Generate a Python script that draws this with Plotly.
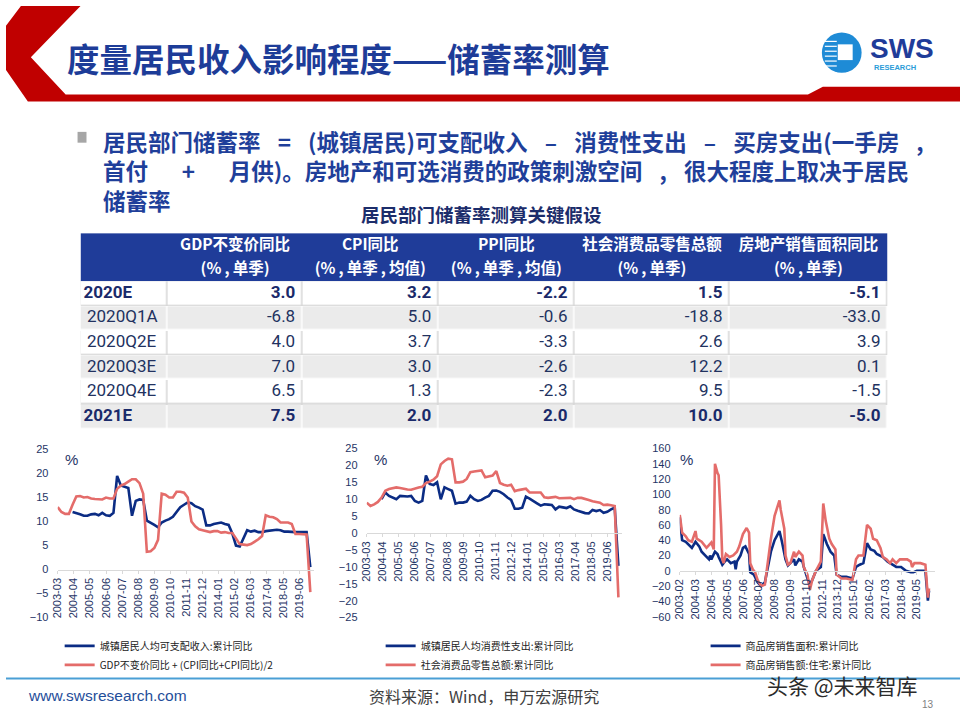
import plotly.graph_objects as go
import pandas as pd
import numpy as np

W, H = 960, 720
def X(p): return p / W
def Y(p): return 1 - p / H

# ---------------- data ----------------
G1 = "\u2002\u2009\u200a"   # operator gap
G2 = "\u2003\u2002"         # gap around "+"
title_text = "度量居民收入影响程度——储蓄率测算"
bullet_lines = [
    f"居民部门储蓄率{G1}={G1}(城镇居民)可支配收入{G1}–{G1}消费性支出{G1}–{G1}买房支出(一手房{G1},",
    f"首付{G2}+{G2}月供)。房地产和可选消费的政策刺激空间{G1},{G1}很大程度上取决于居民",
    "储蓄率",
]
table_title = "居民部门储蓄率测算关键假设"
header_l1 = ["GDP不变价同比", "CPI同比", "PPI同比", "社会消费品零售总额", "房地产销售面积同比"]
header_l2 = ["(%\u2009,\u2009单季)", "(%\u2009,\u2009单季\u2009,\u2009均值)", "(%\u2009,\u2009单季\u2009,\u2009均值)",
             "(%\u2009,\u2009单季)", "(%\u2009,\u2009单季)"]
row_labels = ["2020E", "2020Q1A", "2020Q2E", "2020Q3E", "2020Q4E", "2021E"]
bold_rows = [True, False, False, False, False, True]
gdp = [3.0, -6.8, 4.0, 7.0, 6.5, 7.5]
cpi = [3.2, 5.0, 3.7, 3.0, 1.3, 2.0]
ppi = [-2.2, -0.6, -3.3, -2.6, -2.3, 2.0]
retail = [1.5, -18.8, 2.6, 12.2, 9.5, 10.0]
house = [-5.1, -33.0, 3.9, 0.1, -1.5, -5.0]

# chart 1 (quarterly)
c1_red_name = "GDP不变价同比 + (CPI同比+CPI同比)/2"
c1_blue_name = "城镇居民人均可支配收入:累计同比"
c1_red = [13.0, 12.0, 11.6, 11.6, 13.5, 15.2, 15.3, 15.0, 15.1, 14.8, 14.7, 14.6,
          14.6, 15.0, 14.8, 14.8, 16.8, 17.5, 17.8, 18.3, 18.8, 18.8, 18.0, 15.8,
          3.7, 3.8, 4.5, 6.2, 15.8, 15.6, 15.0, 15.0, 16.2, 16.2, 16.0, 15.0,
          10.0, 9.0, 8.4, 8.2, 8.0, 7.8, 8.0, 8.0, 7.7, 7.8, 7.6, 7.6,
          6.5, 5.3, 5.2, 5.1, 5.3, 5.8, 6.3, 7.0, 11.3, 11.0, 10.9, 10.5,
          9.8, 9.8, 9.8, 9.5, 7.4, 7.4, 7.4, 7.3, -4.7]
c1_blue = [12.0, 11.8, 11.5, 11.2, 11.2, 11.5, 11.6, 11.3, 11.8, 11.3, 11.2, 11.8,
           19.5, 17.5, 17.3, 17.0, 11.2, 14.3, 14.6, 14.5, 10.2, 9.8, 9.3, 8.8,
           9.8, 10.2, 10.5, 11.0, 12.0, 13.0, 13.5, 14.0, 13.8, 13.2, 12.9, 12.5,
           9.2, 9.2, 9.5, 9.7, 9.8, 9.5, 9.3, 7.5, 5.0, 4.8, 6.5, 8.2,
           7.9, 8.1, 7.8, 7.8, 8.0, 8.1, 8.3, 8.3, 8.2, 7.9, 7.9, 7.8,
           7.8, 7.8, 7.8, 7.8, 0.5]

# chart 2 (quarterly)
c2_red_name = "社会消费品零售总额:累计同比"
c2_blue_name = "城镇居民人均消费性支出:累计同比"
c2_red = [9.0, 8.0, 8.5, 9.2, 10.5, 12.5, 13.0, 13.2, 13.5, 13.3, 13.0, 12.9,
          12.8, 13.2, 13.5, 13.7, 14.8, 15.2, 15.8, 16.8, 20.3, 21.3, 22.0, 21.8,
          15.0, 15.0, 15.2, 16.0, 18.0, 18.2, 18.3, 18.5, 16.5, 16.8, 17.0, 18.3,
          14.8, 14.3, 14.0, 14.3, 12.4, 12.7, 12.9, 13.1, 12.0, 12.1, 12.0, 12.0,
          10.6, 10.4, 10.5, 10.7, 10.3, 10.3, 10.4, 10.4, 10.0, 10.4, 10.4, 10.2,
          9.8, 9.4, 9.3, 9.0, 8.3, 8.4, 8.2, 8.0, -19.0]
c2_blue = [10.0, 12.0, 11.0, 10.5, 10.0, 11.0, 10.8, 10.8, 11.0, 9.5, 9.0, 9.5,
           17.0, 14.5, 14.2, 15.0, 10.0, 13.5, 13.0, 12.5, 8.7, 9.0, 9.0, 9.3,
           11.0, 10.0, 9.5, 9.8, 10.5, 11.0, 12.5, 12.6, 12.2, 11.5, 10.5, 9.8,
           7.2, 7.2, 7.5, 10.8, 10.2, 9.6, 8.8, 8.1, 8.5, 8.4, 8.3, 7.0,
           7.8, 7.6, 7.4, 7.9, 7.0, 6.6, 6.2, 5.9, 5.8, 6.8, 6.5, 6.8,
           6.0, 6.3, 7.0, 7.5, -9.7]

# chart 3 (monthly, read at visible turning points)
c3_blue_name = "商品房销售面积:累计同比"
c3_red_name = "商品房销售额:住宅:累计同比"
c3_red_dates = ["2003-02", "2003-04", "2003-07", "2003-09", "2003-12", "2004-03", "2004-04", "2004-08",
                "2004-12", "2005-04", "2005-06", "2005-07", "2005-09", "2005-10", "2005-12", "2006-01",
                "2006-02", "2006-04", "2006-07", "2006-10", "2007-01", "2007-03", "2007-06", "2007-09",
                "2007-11", "2007-12", "2008-02", "2008-04", "2008-06", "2008-09", "2008-12", "2009-03",
                "2009-05", "2009-08", "2009-11", "2009-12", "2010-01", "2010-04", "2010-05", "2010-07",
                "2010-09", "2010-12", "2011-01", "2011-04", "2011-07", "2011-08", "2011-11", "2012-01",
                "2012-03", "2012-06", "2012-10", "2012-12", "2013-02", "2013-05", "2013-07", "2013-10",
                "2013-11", "2014-03", "2014-07", "2014-12", "2015-03", "2015-05", "2015-09", "2015-12",
                "2016-03", "2016-05", "2016-08", "2016-11", "2017-01", "2017-04", "2017-07", "2017-09",
                "2017-12", "2018-03", "2018-09", "2018-12", "2019-01", "2019-03", "2019-08", "2019-12",
                "2020-02", "2020-03"]
c3_red = [73, 50, 45, 40, 38, 52, 42, 38,
          30, 37, 28, 140, 128, 125, 60, 15,
          10, 22, 18, 20, 25, 32, 48, 56,
          50, 10, 2, -2, -12, -20, -18, 20,
          42, 72, 88, 92, 80, 55, 20, 8,
          10, 25, 18, 25, 20, 5, -5, -25,
          -12, 0, 12, 88, 65, 42, 35, 28,
          -5, -10, -10, -12, 15, 20, 20, 60,
          55, 42, 40, 30, 18, 15, 10, 15,
          10, 15, 15, 12, 5, 10, 10, 8,
          -35, -23]
c3_blue_dates = ["2003-02", "2003-04", "2003-07", "2003-09", "2003-12", "2004-03", "2004-06", "2004-08",
                 "2004-11", "2005-02", "2005-03", "2005-04", "2005-07", "2005-09", "2005-10", "2006-01",
                 "2006-03", "2006-05", "2006-08", "2006-11", "2006-12", "2007-01", "2007-04", "2007-06",
                 "2007-08", "2007-11", "2007-12", "2008-03", "2008-06", "2008-09", "2008-12", "2009-03",
                 "2009-05", "2009-08", "2009-11", "2009-12", "2010-02", "2010-05", "2010-07", "2010-09",
                 "2010-12", "2011-01", "2011-04", "2011-07", "2011-08", "2011-11", "2012-01", "2012-03",
                 "2012-06", "2012-10", "2012-12", "2013-03", "2013-06", "2013-09", "2013-11", "2014-03",
                 "2014-07", "2014-12", "2015-03", "2015-06", "2015-09", "2015-12", "2016-03", "2016-06",
                 "2016-08", "2017-01", "2017-05", "2017-09", "2017-12", "2018-04", "2018-08", "2018-12",
                 "2019-02", "2019-05", "2019-12", "2020-02", "2020-03"]
c3_blue = [70, 40, 38, 35, 30, 38, 32, 25,
           20, 15, 20, 15, 25, 22, 18, 8,
           12, 15, 10, 12, 2, 12, 20, 30,
           32, 22, -2, -5, -15, -20, -15, 10,
           25, 40, 48, 52, 38, 15, 7, 10,
           15, 7, 15, 12, 5, -10, -18, -12,
           0, 5, 48, 35, 25, 20, -5, -8,
           -8, -10, 5, 8, 10, 36, 28, 26,
           22, 18, 12, 8, 5, 5, 0, -2,
           -2, 0, 0, -39, -26]

ticks_a = ["2003-03", "2004-04", "2005-05", "2006-06", "2007-07", "2008-08", "2009-09", "2010-10",
           "2011-11", "2012-12", "2014-01", "2015-02", "2016-03", "2017-04", "2018-05", "2019-06"]
ticks_b = ["2003-02", "2004-03", "2005-04", "2006-05", "2007-06", "2008-07", "2009-08", "2010-09",
           "2011-10", "2012-11", "2013-12", "2015-01", "2016-02", "2017-03", "2018-04", "2019-05"]

q_dates = pd.date_range("2003-03-01", "2020-03-01", freq="3MS")
q_dates_b = pd.date_range("2004-03-01", "2020-03-01", freq="3MS")

# ---------------- styling ----------------
NAVY = "#0B2C84"
RED = "#E46C6A"
AXT = "#1F3566"
CJK = "Noto Sans CJK SC"
LAT = "Liberation Sans, Arial"
TBL = "Roboto"

fig = go.Figure()

def add_pair(xb, yb, nb, xr, yr, nr, ax, lg):
    fig.add_trace(go.Scatter(x=xb, y=yb, name=nb, mode="lines", line=dict(color=NAVY, width=2.6),
                             xaxis="x" + ax, yaxis="y" + ax, legend=lg))
    fig.add_trace(go.Scatter(x=xr, y=yr, name=nr, mode="lines", line=dict(color=RED, width=2.6),
                             xaxis="x" + ax, yaxis="y" + ax, legend=lg))

add_pair(q_dates_b, c1_blue, c1_blue_name, q_dates, c1_red, c1_red_name, "", "legend")
add_pair(q_dates_b, c2_blue, c2_blue_name, q_dates, c2_red, c2_red_name, "2", "legend2")
add_pair(pd.to_datetime(c3_blue_dates), c3_blue, c3_blue_name,
         pd.to_datetime(c3_red_dates), c3_red, c3_red_name, "3", "legend3")

# ---------------- table (own axes, units = px inside the table box) ----------------
col_w = [88, 135, 137, 137, 156, 159]
hdr_h, row_h = 49, 25
xb = np.concatenate([[0], np.cumsum(col_w)])
yb = hdr_h + row_h * np.arange(len(row_labels) + 1)
tw, th = xb[-1], yb[-1]
nrow, ncol = len(row_labels), len(col_w)
zebra = [[r % 2 for _ in range(ncol)] for r in range(nrow)]
under = [[1 - r % 2] for r in range(nrow)]

fig.add_trace(go.Heatmap(x=[0, tw], y=[0, hdr_h], z=[[0]], colorscale=[[0, "#1F3C99"], [1, "#1F3C99"]],
                         showscale=False, hoverinfo="skip", xaxis="x4", yaxis="y4"))
fig.add_trace(go.Heatmap(x=[0, tw], y=yb, z=under, colorscale=[[0, "#FFFFFF"], [1, "#D6D6D6"]],
                         zmin=0, zmax=1, showscale=False, hoverinfo="skip", xaxis="x4", yaxis="y4"))
fig.add_trace(go.Heatmap(x=xb, y=yb, z=zebra, colorscale=[[0, "#FFFFFF"], [1, "#EBEBEB"]],
                         zmin=0, zmax=1, xgap=1.5, ygap=1.5, showscale=False, hoverinfo="skip",
                         xaxis="x4", yaxis="y4"))
centers = (xb[1:-1] + xb[2:]) / 2
for txt, yy in ((header_l1, 13.5), (header_l2, 37.5)):
    fig.add_trace(go.Scatter(x=centers, y=[yy] * len(txt), mode="text", text=[f"<b>{t}</b>" for t in txt],
                             textposition="middle center", textfont=dict(color="white", size=15.5, family=CJK),
                             hoverinfo="skip", showlegend=False, cliponaxis=False, xaxis="x4", yaxis="y4"))
rc = (yb[:-1] + yb[1:]) / 2
txt_col = ["#1A2A6A" if b else "#22325F" for b in bold_rows]
fig.add_trace(go.Scatter(x=[3] * nrow, y=rc, mode="text",
                         text=[f"<b>{l}</b>" if b else "\u2009" + l for l, b in zip(row_labels, bold_rows)],
                         textposition="middle right", textfont=dict(color=txt_col, size=17, family=TBL),
                         hoverinfo="skip", showlegend=False, cliponaxis=False, xaxis="x4", yaxis="y4"))
for ci, col in enumerate((gdp, cpi, ppi, retail, house), start=1):
    fig.add_trace(go.Scatter(x=[xb[ci + 1] - 7] * nrow, y=rc, mode="text",
                             text=[f"<b>{v:.1f}</b>" if b else f"{v:.1f}" for v, b in zip(col, bold_rows)],
                             textposition="middle left", textfont=dict(color=txt_col, size=17, family=TBL),
                             hoverinfo="skip", showlegend=False, cliponaxis=False, xaxis="x4", yaxis="y4"))

# ---------------- chart axes ----------------
def axes(n, xl, xr, yt, ybm, yr, dtick, xrange, tv):
    d0, d1 = Y(ybm), Y(yt)
    pos = d0 + (0 - yr[0]) / (yr[1] - yr[0]) * (d1 - d0)
    fig.layout["xaxis" + n] = dict(domain=[X(xl), X(xr)], type="date", range=xrange, anchor="free",
                                   position=pos, showline=True, linecolor="#D9D9D9", linewidth=1,
                                   ticks="outside", ticklen=3, tickcolor="#D9D9D9", showgrid=False,
                                   zeroline=False, tickvals=tv, tickformat="%Y-%m", tickangle=-90,
                                   tickfont=dict(size=11, color=AXT, family=LAT), fixedrange=True)
    fig.layout["yaxis" + n] = dict(domain=[d0, d1], range=yr, dtick=dtick, showgrid=False, zeroline=False,
                                   showline=False, ticks="outside", ticklen=6, tickcolor="rgba(0,0,0,0)",
                                   anchor="x" + n, tickfont=dict(size=11, color=AXT, family=LAT),
                                   fixedrange=True)

axes("", 52, 310, 451, 622, [-10, 25], 5, ["2003-03-01", "2020-06-01"], pd.to_datetime(ticks_a))
axes("2", 363, 620, 450, 622, [-25, 25], 5, ["2003-03-01", "2020-06-01"], pd.to_datetime(ticks_a))
axes("3", 678, 935, 450, 621, [-60, 160], 20, ["2003-02-01", "2020-08-01"], pd.to_datetime(ticks_b))
fig.layout["xaxis4"] = dict(domain=[X(75), X(75 + tw)], range=[0, tw], visible=False, anchor="y4",
                            fixedrange=True)
fig.layout["yaxis4"] = dict(domain=[Y(231 + th), Y(231)], range=[th, 0], visible=False, anchor="x4",
                            fixedrange=True)

leg = dict(xanchor="left", yanchor="top", bgcolor="rgba(0,0,0,0)", tracegroupgap=0,
           font=dict(size=10, color="#222222", family=CJK), itemclick=False)
fig.update_layout(
    legend=dict(x=X(54), y=Y(636), **leg),
    legend2=dict(x=X(377), y=Y(636), **leg),
    legend3=dict(x=X(704), y=Y(636), **leg),
)

# ---------------- decorations ----------------
def path(pts):
    return "M " + " L ".join(f"{X(a):.5f},{Y(b):.5f}" for a, b in pts) + " Z"

shapes = [
    dict(type="path", xref="paper", yref="paper", line=dict(width=0), fillcolor="#C00000",
         path=path([(15, 0), (75, 0), (25, 52), (60, 90), (807, 90), (822, 82), (960, 82), (960, 97),
                    (22, 97), (0, 65), (0, 20)])),
    dict(type="circle", xref="paper", yref="paper", x0=X(821), x1=X(861), y0=Y(68), y1=Y(27),
         fillcolor="#1E8BD6", line=dict(width=0)),
    dict(type="rect", xref="paper", yref="paper", x0=X(837), x1=X(852), y0=Y(55), y1=Y(39),
         fillcolor="white", line=dict(width=0)),
    dict(type="rect", xref="paper", yref="paper", x0=X(72), x1=X(81), y0=Y(139), y1=Y(128),
         fillcolor="#A6A6A6", line=dict(width=0)),
    dict(type="line", xref="paper", yref="paper", x0=0, x1=1, y0=Y(684), y1=Y(684),
         line=dict(color="#4A9FD5", width=2)),
]
for yy in (36, 41, 46, 51, 56, 61):
    shapes.append(dict(type="line", xref="paper", yref="paper", x0=X(824), x1=X(836), y0=Y(yy), y1=Y(yy),
                       line=dict(color="white", width=1.2)))

ann = [
    dict(x=X(59), y=Y(52), text=f"<b>{title_text}</b>", xanchor="left", yanchor="middle",
         font=dict(size=32.5, color="#1D3C98", family=CJK)),
    dict(x=X(867), y=Y(43), text="<b>SWS</b>", xanchor="left", yanchor="middle",
         font=dict(size=28, color="#1F3C99", family="Liberation Sans")),
    dict(x=X(871), y=Y(62.5), text="<b>RESEARCH</b>", xanchor="left", yanchor="middle",
         font=dict(size=7.5, color="#2A9CD8", family="Liberation Sans")),
    dict(x=X(478), y=Y(212), text=f"<b>{table_title}</b>", xanchor="center", yanchor="middle",
         font=dict(size=18.5, color="#1C2D6B", family=CJK)),
    dict(x=X(57), y=Y(461), text="%", xanchor="left", yanchor="middle", font=dict(size=15, color=AXT, family=LAT)),
    dict(x=X(368), y=Y(461), text="%", xanchor="left", yanchor="middle", font=dict(size=15, color=AXT, family=LAT)),
    dict(x=X(676), y=Y(461), text="%", xanchor="left", yanchor="middle", font=dict(size=15, color=AXT, family=LAT)),
    dict(x=X(20), y=Y(701), text="www.swsresearch.com", xanchor="left", yanchor="middle",
         font=dict(size=15.5, color="#1F4E9A", family=LAT)),
    dict(x=X(481), y=Y(702), text="资料来源：Wind，申万宏源研究", xanchor="center", yanchor="middle",
         font=dict(size=16, color="#404040", family=CJK)),
    dict(x=X(764), y=Y(690), text="头条 @未来智库", xanchor="left", yanchor="middle",
         font=dict(size=21, color="#2B2B2B", family=CJK)),
    dict(x=X(928), y=Y(710), text="13", xanchor="center", yanchor="middle",
         font=dict(size=10, color="#7F7F7F", family=LAT)),
]
for t, yy in zip(bullet_lines, (137, 167, 197)):
    ann.append(dict(x=X(96), y=Y(yy), text=f"<b>{t}</b>", xanchor="left", yanchor="middle",
                    font=dict(size=22.5, color="#1F3F9A", family=CJK)))
for a in ann:
    a.update(xref="paper", yref="paper", showarrow=False)

fig.update_layout(width=W, height=H, margin=dict(l=0, r=0, t=0, b=0), paper_bgcolor="white",
                  plot_bgcolor="rgba(0,0,0,0)", shapes=shapes, annotations=ann, showlegend=True,
                  font=dict(family=CJK))
fig.write_html("out.html")
